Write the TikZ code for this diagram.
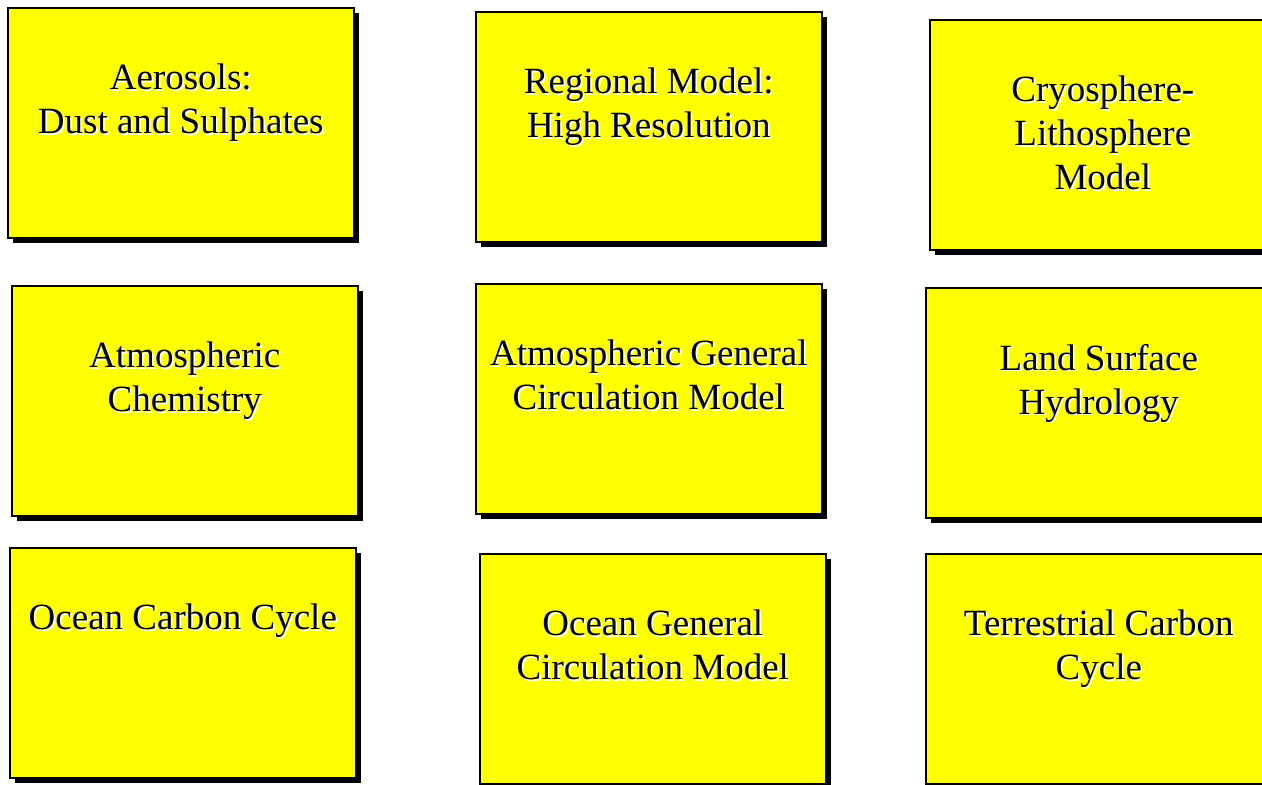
\documentclass[tikz,border=0pt]{standalone}
\usepackage{fontspec}
\setmainfont{Liberation Serif}
\usetikzlibrary{shadows}
\definecolor{modulefill}{RGB}{255,255,0}

\begin{document}
\begin{tikzpicture}[
            x=1pt,
            y=-1pt,
            module/.style={
                rectangle,
                anchor=north west,
                minimum width=346pt,
                minimum height=230pt,
                draw=black,
                line width=1.6pt,
                fill=modulefill,
                drop shadow={shadow xshift=5pt, shadow yshift=-5pt, fill=black, opacity=1}
            },
            caption/.style={
                anchor=north,
                inner sep=0pt,
                align=center,
                font=\fontsize{37}{44}\selectfont,
                text=black
            },
            glow/.style={
                caption,
                text=white,
                xshift=1.5pt,
                yshift=-1.5pt
            }
        ]
            % Page frame, right column runs off the edge
            \useasboundingbox (0,0) rectangle (1262,785);
            \clip (0,0) rectangle (1262,785);

            % Define modules
            \node[module] (aer)   at (7,7)     {};
            \node[module] (reg)   at (475,11)  {};
            \node[module] (cryo)  at (929,19)  {};
            \node[module] (chem)  at (11,285)  {};
            \node[module] (agcm)  at (475,283) {};
            \node[module] (land)  at (925,287) {};
            \node[module] (ocarb) at (9,547)   {};
            \node[module] (ogcm)  at (479,553) {};
            \node[module] (terr)  at (925,553) {};

            % White glow behind the captions
            \node[glow] (aer-g)   at ([yshift=-57pt]aer.north)   {Aerosols:\\Dust and Sulphates};
            \node[glow] (reg-g)   at ([yshift=-57pt]reg.north)   {Regional Model:\\High Resolution};
            \node[glow] (cryo-g)  at ([yshift=-57pt]cryo.north)  {Cryosphere-\\Lithosphere\\Model};
            \node[glow] (chem-g)  at ([yshift=-57pt]chem.north)  {Atmospheric\\Chemistry};
            \node[glow] (agcm-g)  at ([yshift=-57pt]agcm.north)  {Atmospheric General\\Circulation Model};
            \node[glow] (land-g)  at ([yshift=-57pt]land.north)  {Land Surface\\Hydrology};
            \node[glow] (ocarb-g) at ([yshift=-57pt]ocarb.north) {Ocean Carbon Cycle};
            \node[glow] (ogcm-g)  at ([yshift=-57pt]ogcm.north)  {Ocean General\\Circulation Model};
            \node[glow] (terr-g)  at ([yshift=-57pt]terr.north)  {Terrestrial Carbon\\Cycle};

            % Captions
            \node[caption] (aer-t)   at ([yshift=-57pt]aer.north)   {Aerosols:\\Dust and Sulphates};
            \node[caption] (reg-t)   at ([yshift=-57pt]reg.north)   {Regional Model:\\High Resolution};
            \node[caption] (cryo-t)  at ([yshift=-57pt]cryo.north)  {Cryosphere-\\Lithosphere\\Model};
            \node[caption] (chem-t)  at ([yshift=-57pt]chem.north)  {Atmospheric\\Chemistry};
            \node[caption] (agcm-t)  at ([yshift=-57pt]agcm.north)  {Atmospheric General\\Circulation Model};
            \node[caption] (land-t)  at ([yshift=-57pt]land.north)  {Land Surface\\Hydrology};
            \node[caption] (ocarb-t) at ([yshift=-57pt]ocarb.north) {Ocean Carbon Cycle};
            \node[caption] (ogcm-t)  at ([yshift=-57pt]ogcm.north)  {Ocean General\\Circulation Model};
            \node[caption] (terr-t)  at ([yshift=-57pt]terr.north)  {Terrestrial Carbon\\Cycle};
        \end{tikzpicture}
\end{document}
